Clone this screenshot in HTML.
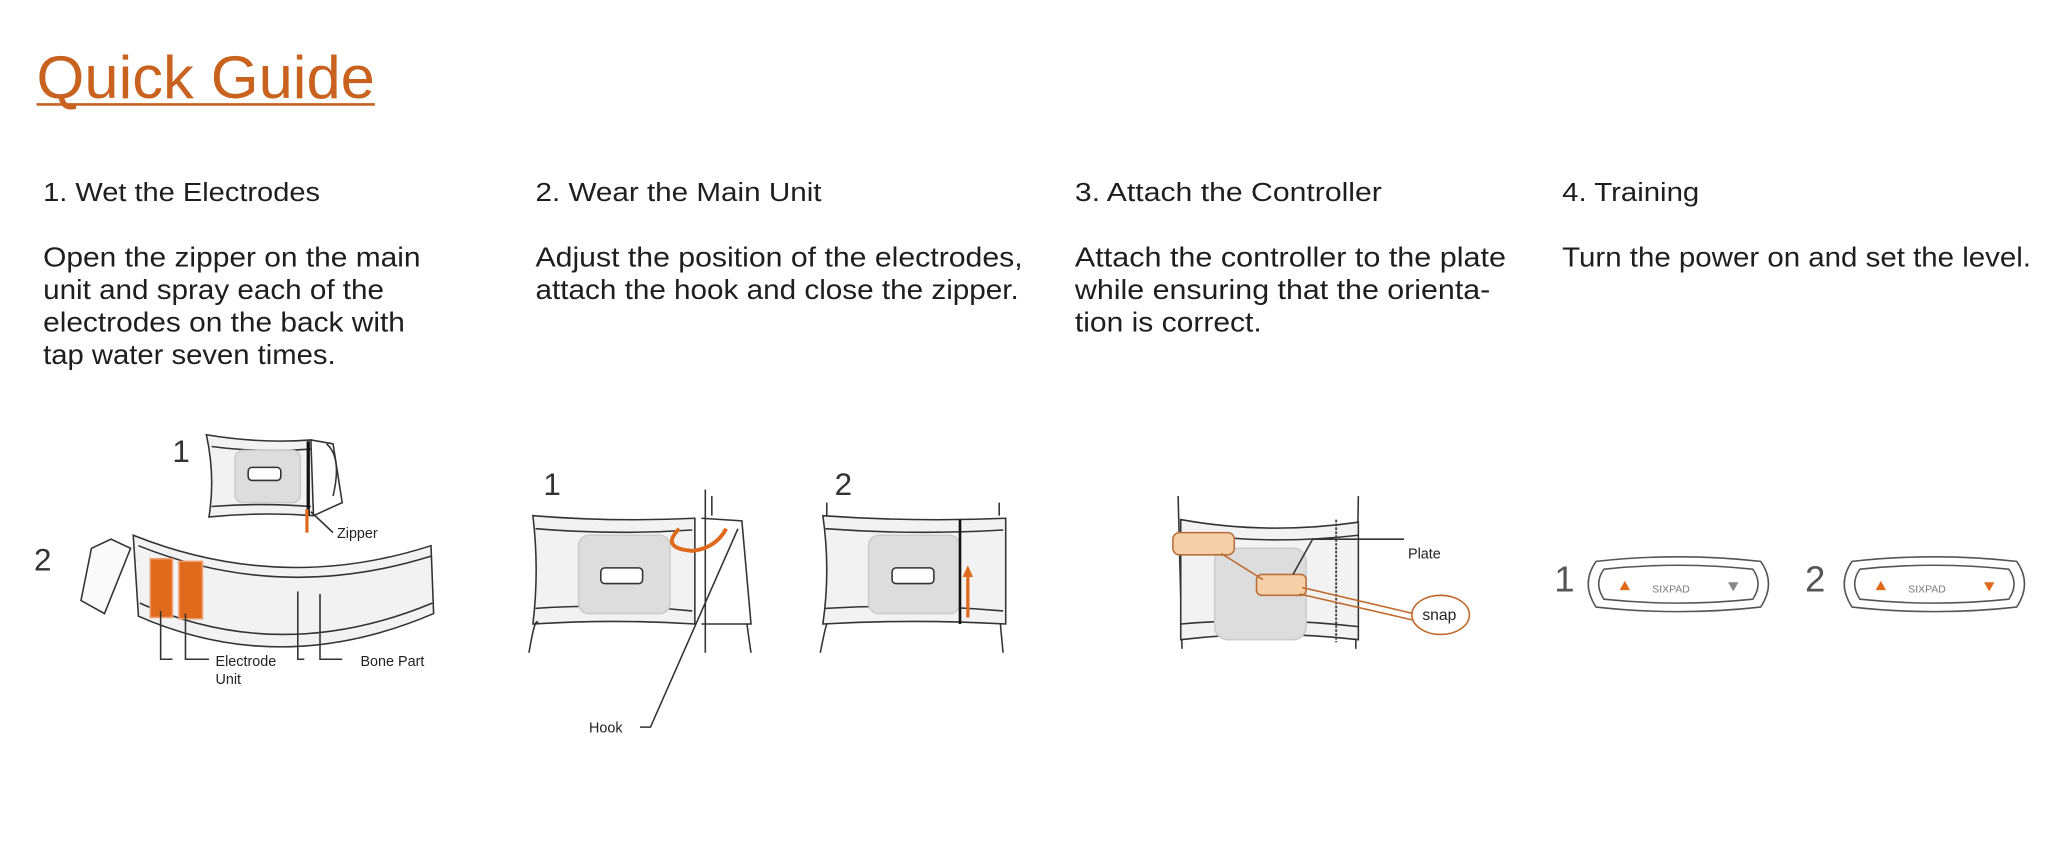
<!DOCTYPE html>
<html><head><meta charset="utf-8"><style>
html,body{margin:0;padding:0;background:#fff;}
svg{display:block;}
text{font-family:"Liberation Sans",sans-serif;}
</style></head><body>
<svg width="2048" height="859" viewBox="0 0 1568 658" preserveAspectRatio="none" xmlns="http://www.w3.org/2000/svg">
<rect width="1568" height="658" fill="#fff"/>
<!-- Title -->
<text x="28" y="75" font-size="46" fill="#c8621e" textLength="259" lengthAdjust="spacingAndGlyphs">Quick Guide</text>
<rect x="28" y="79" width="259" height="2" fill="#c8621e"/>

<g fill="#1e1e1e" font-size="20">
<text x="33" y="154" textLength="212" lengthAdjust="spacingAndGlyphs">1. Wet the Electrodes</text>
<text x="410" y="154" textLength="219" lengthAdjust="spacingAndGlyphs">2. Wear the Main Unit</text>
<text x="823" y="154" textLength="235" lengthAdjust="spacingAndGlyphs">3. Attach the Controller</text>
<text x="1196" y="154" textLength="105" lengthAdjust="spacingAndGlyphs">4. Training</text>
</g>
<g fill="#1e1e1e" font-size="21">
<text x="33" y="204" textLength="289" lengthAdjust="spacingAndGlyphs">Open the zipper on the main</text>
<text x="33" y="229" textLength="261" lengthAdjust="spacingAndGlyphs">unit and spray each of the</text>
<text x="33" y="254" textLength="277" lengthAdjust="spacingAndGlyphs">electrodes on the back with</text>
<text x="33" y="279" textLength="224" lengthAdjust="spacingAndGlyphs">tap water seven times.</text>
<text x="410" y="204" textLength="373" lengthAdjust="spacingAndGlyphs">Adjust the position of the electrodes,</text>
<text x="410" y="229" textLength="370" lengthAdjust="spacingAndGlyphs">attach the hook and close the zipper.</text>
<text x="823" y="204" textLength="330" lengthAdjust="spacingAndGlyphs">Attach the controller to the plate</text>
<text x="823" y="229" textLength="318" lengthAdjust="spacingAndGlyphs">while ensuring that the orienta-</text>
<text x="823" y="254" textLength="143" lengthAdjust="spacingAndGlyphs">tion is correct.</text>
<text x="1196" y="204" textLength="359" lengthAdjust="spacingAndGlyphs">Turn the power on and set the level.</text>
</g>

<!-- Fig 1 -->
<g stroke="#333" stroke-width="1.2" fill="none">
<text x="132" y="354" font-size="24" fill="#333" stroke="none">1</text>
<path d="M158 333 Q200 340 238 337 L240 395 Q200 392 160 396 Q165 365 158 333Z" fill="#f2f2f2"/>
<path d="M238 337 L255 340 L262 385 L240 395"/>
<path d="M250 340 Q262 350 255 380" />
<path d="M162 342 Q200 347 238 344 M162 388 Q200 385 238 388"/>
<rect x="180" y="345" width="50" height="40" rx="6" fill="#ddd" stroke="#ccc"/>
<rect x="190" y="358" width="25" height="10" rx="3" fill="#fff"/>
<line x1="236" y1="338" x2="236" y2="395" stroke="#111" stroke-width="2.5"/>
<line x1="235" y1="390" x2="235" y2="408" stroke="#e06a1c" stroke-width="2.5"/>
<line x1="238" y1="392" x2="255" y2="408"/>
<text x="258" y="412" font-size="11" fill="#222" stroke="none">Zipper</text>
<text x="26" y="437" font-size="24" fill="#333" stroke="none">2</text>
<path d="M102 410 Q215 455 330 418 L332 470 Q215 520 106 472Z" fill="#f2f2f2"/>
<path d="M106 418 Q215 462 330 426 M107 462 Q215 510 331 462"/>
<path d="M70 420 L85 413 L100 420 L80 470 L62 460Z" fill="#fafafa"/>
<rect x="115" y="428" width="17" height="45" fill="#e06a1c" stroke="#f0a070"/>
<rect x="137" y="430" width="18" height="44" fill="#e06a1c" stroke="#f0a070"/>
<path d="M123 468 V505 H132 M142 470 V505 H160"/>
<path d="M228 453 V505 H233 M245 455 V505 H262"/>
<text x="165" y="510" font-size="11" fill="#222" stroke="none">Electrode</text>
<text x="165" y="524" font-size="11" fill="#222" stroke="none">Unit</text>
<text x="276" y="510" font-size="11" fill="#222" stroke="none">Bone Part</text>
</g>

<!-- Fig 2 -->
<g stroke="#333" stroke-width="1.2" fill="none">
<text x="416" y="379" font-size="24" fill="#333" stroke="none">1</text>
<path d="M408 395 Q470 400 532 397 L532 478 Q470 474 408 478 Q413 437 408 395Z" fill="#f2f2f2"/>
<path d="M410 405 Q470 410 530 406 M410 466 Q470 462 530 468"/>
<path d="M537 397 L568 399 L575 478 L537 478"/>
<rect x="443" y="410" width="70" height="60" rx="8" fill="#ddd" stroke="#ccc"/>
<rect x="460" y="435" width="32" height="12" rx="3" fill="#fff" stroke="#333"/>
<path d="M405 500 Q410 470 412 478 M540 375 L540 500 M575 500 Q572 480 572 478 M545 380 L545 395"/>
<path d="M520 405 Q505 420 530 422 Q548 420 556 405" stroke="#e06a1c" stroke-width="3"/>
<path d="M490 557 H498 L565 405"/>
<text x="451" y="561" font-size="11" fill="#222" stroke="none">Hook</text>
<text x="639" y="379" font-size="24" fill="#333" stroke="none">2</text>
<path d="M630 395 Q700 400 770 397 L770 478 Q700 474 630 478 Q636 437 630 395Z" fill="#f2f2f2"/>
<path d="M632 405 Q700 410 768 406 M632 466 Q700 462 768 468"/>
<rect x="665" y="410" width="70" height="60" rx="8" fill="#ddd" stroke="#ccc"/>
<rect x="683" y="435" width="32" height="12" rx="3" fill="#fff" stroke="#333"/>
<line x1="735" y1="398" x2="735" y2="478" stroke="#111" stroke-width="2"/>
<line x1="741" y1="473" x2="741" y2="440" stroke="#e06a1c" stroke-width="2.5"/>
<path d="M737 442 L741 433 L745 442Z" fill="#e06a1c" stroke="none"/>
<path d="M633 385 V395 M765 385 V395 M628 500 Q632 480 633 478 M768 500 Q766 480 766 478"/>
</g>

<!-- Fig 3 -->
<g stroke="#333" stroke-width="1.2" fill="none">
<path d="M902 380 L905 497 M1040 380 L1038 497"/>
<path d="M904 398 Q970 410 1040 400 L1040 490 Q970 482 904 490Z" fill="#f2f2f2"/>
<path d="M904 408 Q970 418 1040 410 M904 478 Q970 472 1040 480"/>
<rect x="930" y="420" width="70" height="70" rx="10" fill="#ddd" stroke="#ccc"/>
<line x1="1023" y1="398" x2="1023" y2="492" stroke="#444" stroke-width="1.5" stroke-dasharray="2 1"/>
<rect x="898" y="408" width="47" height="17" rx="5" fill="#f5cfa8" stroke="#b8703a"/>
<rect x="962" y="440" width="38" height="16" rx="4" fill="#f5cfa8" stroke="#b8703a"/>
<line x1="935" y1="424" x2="967" y2="444" stroke="#c0682a"/>
<path d="M990 440 L1005 413 H1075"/>
<text x="1078" y="428" font-size="11" fill="#222" stroke="none">Plate</text>
<path d="M997 450 L1082 470 M995 455 L1082 475" stroke="#c0682a"/>
<ellipse cx="1103" cy="471" rx="22" ry="15" fill="#fff" stroke="#c0682a"/>
<text x="1089" y="475" font-size="12" fill="#222" stroke="none">snap</text>
</g>

<!-- Fig 4 -->
<g stroke="#555" stroke-width="1.2" fill="none">
<text x="1190" y="453" font-size="28" fill="#555" stroke="none">1</text>
<path d="M1222 430 Q1285 423 1348 430 Q1360 447 1348 465 Q1285 472 1222 465 Q1210 447 1222 430Z"/>
<path d="M1228 436 Q1285 430 1342 436 Q1350 447 1342 459 Q1285 465 1228 459 Q1220 447 1228 436Z"/>
<path d="M1240 452 L1244 445 L1248 452Z" fill="#e06a1c" stroke="none"/>
<path d="M1323 446 L1327 453 L1331 446Z" fill="#888" stroke="none"/>
<text x="1265" y="454" font-size="8" fill="#777" stroke="none">SIXPAD</text>
<text x="1382" y="453" font-size="28" fill="#555" stroke="none">2</text>
<path d="M1418 430 Q1481 423 1544 430 Q1556 447 1544 465 Q1481 472 1418 465 Q1406 447 1418 430Z"/>
<path d="M1424 436 Q1481 430 1538 436 Q1546 447 1538 459 Q1481 465 1424 459 Q1416 447 1424 436Z"/>
<path d="M1436 452 L1440 445 L1444 452Z" fill="#e06a1c" stroke="none"/>
<path d="M1519 446 L1523 453 L1527 446Z" fill="#e06a1c" stroke="none"/>
<text x="1461" y="454" font-size="8" fill="#777" stroke="none">SIXPAD</text>
</g>
</svg>
</body></html>
